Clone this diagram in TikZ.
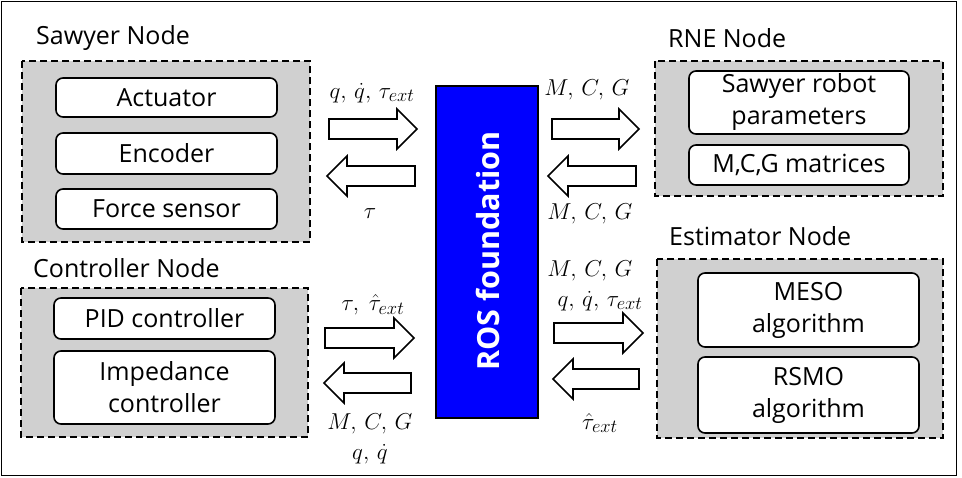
\RequirePackage{fix-cm}
\documentclass[tikz,border=0pt]{standalone}
\usepackage{amsmath}
\usepackage{fontspec}
\setmainfont{Open Sans}
\DeclareMathSizes{23}{23}{18.5}{14}
\begin{document}
\begin{tikzpicture}[x=1pt,y=-1pt,
  frame/.style={draw=black,line width=1.2pt},
  group/.style={draw=black,dashed,dash pattern=on 7pt off 4pt,line width=1.6pt,fill=boxgray},
  ibox/.style={draw=black,rounded corners=7pt,fill=white,line width=1.6pt,
    align=center,inner sep=0pt,font=\fontsize{25}{32}\selectfont},
  glabel/.style={anchor=base west,inner sep=0pt,font=\fontsize{25}{30}\selectfont},
  mlabel/.style={inner sep=0pt,font=\fontsize{23}{27}\selectfont},
  blk/.style={draw=black,fill=white,line width=1.6pt,line join=miter},
  ros/.style={draw=black,fill=rosblue,line width=1.4pt,minimum width=102pt,minimum height=332pt,inner sep=0pt}
]
\definecolor{boxgray}{RGB}{208,208,208}
\definecolor{rosblue}{RGB}{0,0,255}
\newcommand\rarr[3]{\draw[blk] (#1,#3-10) -- (#2-20,#3-10) -- (#2-20,#3-20) -- (#2,#3) -- (#2-20,#3+20) -- (#2-20,#3+10) -- (#1,#3+10) -- cycle;}
\newcommand\larr[3]{\draw[blk] (#2,#3-10) -- (#1+20,#3-10) -- (#1+20,#3-20) -- (#1,#3) -- (#1+20,#3+20) -- (#1+20,#3+10) -- (#2,#3+10) -- cycle;}
\useasboundingbox (0,0) rectangle (962,477);
\draw[frame] (1.5,1.5) rectangle (956.5,475.5);
% groups
\draw[group] (22,61) rectangle (310,242);
\draw[group] (21,288) rectangle (308,437);
\draw[group] (655,61) rectangle (943,196);
\draw[group] (657,259) rectangle (943,438);
\node[glabel] (lsawyer) at (36,44) {Sawyer Node};
\node[glabel] (lctrl) at (33,277) {Controller Node};
\node[glabel] (lrne) at (668,47) {RNE Node};
\node[glabel] (lest) at (669,245) {Estimator Node};
% inner boxes
\node[ibox,minimum width=221pt,minimum height=39pt] (act) at (166.5,97.5) {Actuator};
\node[ibox,minimum width=221pt,minimum height=41pt] (enc) at (166.5,153.5) {Encoder};
\node[ibox,minimum width=221pt,minimum height=40pt] (fs) at (166.5,209) {Force sensor};
\node[ibox,minimum width=221pt,minimum height=41pt] (pid) at (164.5,318.5) {PID controller};
\node[ibox,minimum width=221pt,minimum height=73pt] (imp) at (164.5,387.5) {Impedance\\controller};
\node[ibox,minimum width=220pt,minimum height=63pt] (srp) at (799,102.5) {Sawyer robot\\parameters};
\node[ibox,minimum width=220pt,minimum height=40pt] (mcg) at (799,165) {M,C,G matrices};
\node[ibox,minimum width=221pt,minimum height=74pt] (meso) at (808.5,310) {MESO\\algorithm};
\node[ibox,minimum width=221pt,minimum height=76pt] (rsmo) at (808.5,395) {RSMO\\algorithm};
% ROS
\node[ros] (ros) at (487,252) {};
\node[rotate=90,text=white,font=\fontsize{30.5}{36}\selectfont\bfseries] (rostxt) at (488,251) {ROS foundation};
% arrows
\rarr{329}{417}{129}
\larr{327}{415}{176}
\rarr{552}{639}{129}
\larr{548}{636}{176}
\rarr{325}{414}{338}
\larr{324}{411}{383}
\rarr{554}{643}{333}
\larr{553}{639}{379}
% labels
\node[mlabel] (m1) at (372,93) {$q,\,\dot q,\,\tau_{ext}$};
\node[mlabel] (m2) at (370,214) {$\tau$};
\node[mlabel] (m3) at (587,90) {$M,\,C,\,G$};
\node[mlabel] (m4) at (590,214) {$M,\,C,\,G$};
\node[mlabel] (m5) at (373,305) {$\tau,\ \hat\tau_{ext}$};
\node[mlabel] (m6) at (370,424) {$M,\,C,\,G$};
\node[mlabel] (m7) at (370,454) {$q,\,\dot q$};
\node[mlabel] (m8) at (590,271) {$M,\,C,\,G$};
\node[mlabel] (m9) at (600,301) {$q,\,\dot q,\,\tau_{ext}$};
\node[mlabel] (m10) at (600,423) {$\hat\tau_{ext}$};
\end{tikzpicture}
\end{document}
